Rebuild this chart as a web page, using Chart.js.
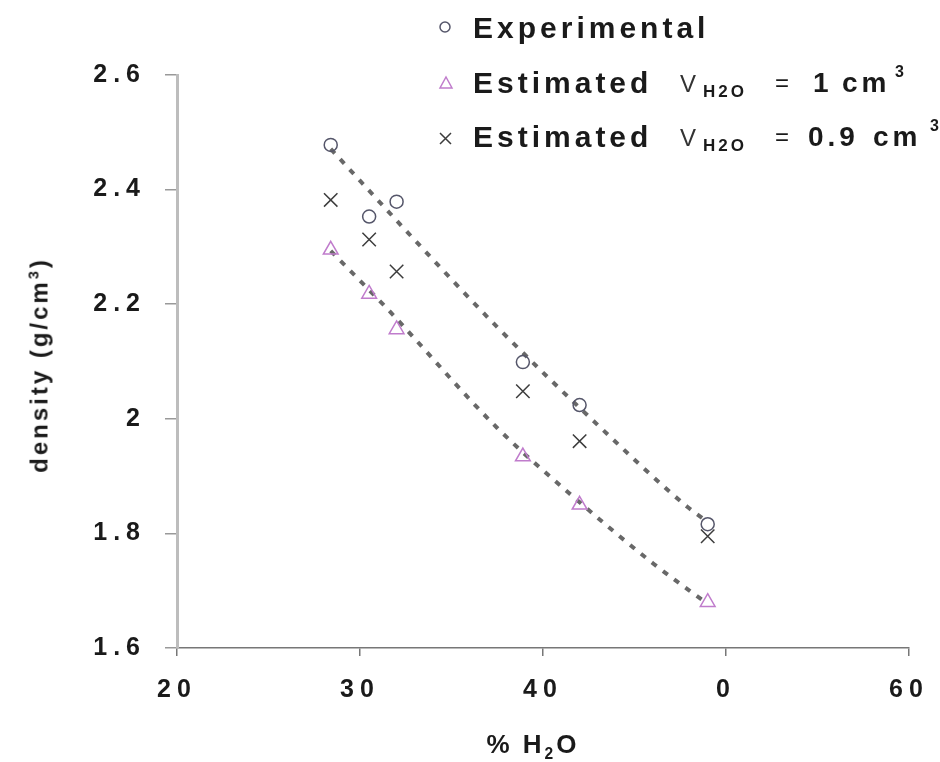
<!DOCTYPE html>
<html>
<head>
<meta charset="utf-8">
<script src="https://cdn.jsdelivr.net/npm/chart.js@4/dist/chart.umd.min.js"></script>
<style>
  body { margin: 0; background: #fff; }
  #wrap { position: relative; width: 940px; height: 762px; overflow: hidden; font-family: "Liberation Sans", Arial, sans-serif; color: #1a1a1a; }
  #chart { position: absolute; left: 0; top: 0; }
  .t { position: absolute; white-space: nowrap; line-height: 0; }
  #ytitle { position: absolute; left: 39px; top: 365px; transform: translate(-50%, -50%) rotate(-90deg); font-size: 24px; font-weight: bold; letter-spacing: 3px; white-space: nowrap; line-height: 1; }
  #xtitle { position: absolute; left: 533px; top: 744px; transform: translateX(-50%); font-size: 26px; font-weight: bold; letter-spacing: 3px; white-space: nowrap; line-height: 0; }
  sub, sup { font-size: 60%; }
</style>
</head>
<body>
<div id="wrap">
  <canvas id="chart" width="940" height="762"></canvas>
  <div id="ytitle">density (g/cm<sup>3</sup>)</div>
  <div id="xtitle">% H<sub>2</sub>O</div>
</div>
<script>
// values
const waterPct = [28.4, 30.5, 32.0, 38.9, 42.0, 49.0];
const experimental = [2.478, 2.353, 2.379, 2.099, 2.024, 1.816];
const estimated1 = [2.295, 2.218, 2.156, 1.934, 1.850, 1.680];
const estimated09 = [2.382, 2.313, 2.257, 2.048, 1.961, 1.795];

// dotted trend lines
const trendTopX = [28.4, 33.4, 37.5, 43.0, 47.9, 49.0];
const trendTopY = [2.471, 2.298, 2.160, 1.989, 1.846, 1.820];
const trendBotX = [28.4, 31.4, 37.5, 41.4, 46.0, 49.0];
const trendBotY = [2.293, 2.195, 1.984, 1.871, 1.748, 1.677];

const xTickValues = [20, 30, 40, 50, 60];
const xTickLabels = ['20', '30', '40', '0', '60'];
const yTickValues = [1.6, 1.8, 2.0, 2.2, 2.4, 2.6];
const yTickLabels = ['1.6', '1.8', '2', '2.2', '2.4', '2.6'];

const pts = (xs, ys) => xs.map((x, i) => ({ x: x, y: ys[i] }));

const circleColor = '#55566a';
const triColor = '#c07ccc';
const crossColor = '#3c3c3c';
const trendColor = '#686868';

const wrap = document.getElementById('wrap');
function put(text, x, base, size, weight, spacing, color) {
  const s = document.createElement('span');
  s.className = 't';
  s.textContent = text;
  s.style.left = x + 'px';
  s.style.top = (base - 0.3465 * size) + 'px';
  s.style.fontSize = size + 'px';
  s.style.fontWeight = weight;
  s.style.letterSpacing = spacing + 'px';
  if (color) s.style.color = color;
  wrap.appendChild(s);
}

// legend text
put('Experimental', 473, 38, 30, 'bold', 4);
put('Estimated', 473, 93, 30, 'bold', 4);
put('V', 680, 92, 24, 'normal', 0, '#333');
put('H2O', 703, 98, 17, 'bold', 3);
put('=', 775, 91, 24, 'normal', 0);
put('1', 813, 93, 28, 'bold', 0);
put('cm', 842, 93, 28, 'bold', 4);
put('3', 895, 78, 16, 'bold', 0);
put('Estimated', 473, 147, 30, 'bold', 4);
put('V', 680, 146, 24, 'normal', 0, '#333');
put('H2O', 703, 152, 17, 'bold', 3);
put('=', 775, 145, 24, 'normal', 0);
put('0.9', 808, 147, 28, 'bold', 4);
put('cm', 873, 147, 28, 'bold', 4);
put('3', 930, 132, 16, 'bold', 0);

const spacingPlugin = {
  id: 'spacing',
  beforeLayout(chart) { chart.ctx.letterSpacing = '6px'; },
  beforeDraw(chart) { chart.ctx.letterSpacing = '6px'; }
};

// legend symbols
const legendMarks = {
  id: 'legendMarks',
  afterDraw(chart) {
    const ctx = chart.ctx;
    ctx.save();
    ctx.lineWidth = 1.5;
    ctx.strokeStyle = circleColor;
    ctx.beginPath();
    ctx.arc(445, 27, 5, 0, Math.PI * 2);
    ctx.stroke();
    ctx.strokeStyle = triColor;
    ctx.beginPath();
    ctx.moveTo(446, 77);
    ctx.lineTo(452, 88);
    ctx.lineTo(440, 88);
    ctx.closePath();
    ctx.stroke();
    ctx.strokeStyle = crossColor;
    ctx.beginPath();
    ctx.moveTo(440, 133); ctx.lineTo(451, 144);
    ctx.moveTo(451, 133); ctx.lineTo(440, 144);
    ctx.stroke();
    ctx.restore();
  }
};

const tickFont = { family: '"Liberation Sans", Arial, sans-serif', size: 25, weight: 'bold' };

new Chart(document.getElementById('chart'), {
  type: 'scatter',
  data: {
    datasets: [
      {
        label: 'trend experimental',
        data: pts(trendTopX, trendTopY),
        showLine: true, pointRadius: 0, borderColor: trendColor, borderWidth: 4,
        borderDash: [6, 8], tension: 0.4, cubicInterpolationMode: 'monotone', order: 3
      },
      {
        label: 'trend estimated',
        data: pts(trendBotX, trendBotY),
        showLine: true, pointRadius: 0, borderColor: trendColor, borderWidth: 4,
        borderDash: [6, 8], tension: 0.4, cubicInterpolationMode: 'monotone', order: 3
      },
      {
        label: 'Experimental',
        data: pts(waterPct, experimental),
        pointStyle: 'circle', pointRadius: 6.5, borderWidth: 1.5,
        borderColor: circleColor, backgroundColor: 'rgba(255,255,255,0)', order: 1
      },
      {
        label: 'Estimated V = 1 cm3',
        data: pts(waterPct, estimated1),
        pointStyle: 'triangle', pointRadius: 8.5, borderWidth: 1.5,
        borderColor: triColor, backgroundColor: 'rgba(255,255,255,0)', order: 1
      },
      {
        label: 'Estimated V = 0.9 cm3',
        data: pts(waterPct, estimated09),
        pointStyle: 'crossRot', pointRadius: 9.5, borderWidth: 1.5,
        borderColor: crossColor, backgroundColor: crossColor, order: 1
      }
    ]
  },
  options: {
    responsive: false,
    animation: false,
    layout: { padding: { top: 75, right: 31, left: 0, bottom: 0 } },
    plugins: { legend: { display: false }, tooltip: { enabled: false } },
    scales: {
      x: {
        type: 'linear', min: 20, max: 60,
        afterBuildTicks: s => { s.ticks = xTickValues.map(v => ({ value: v })); },
        afterFit: s => { s.height = 114; s.paddingLeft = 0; s.paddingRight = 0; },
        border: { display: true, color: '#777', width: 1.5 },
        grid: { drawOnChartArea: false, drawTicks: true, tickLength: 8, color: '#777', lineWidth: 1.5 },
        ticks: { padding: 19, color: '#1a1a1a', font: tickFont, maxRotation: 0,
                 callback: (v, i) => xTickLabels[i] }
      },
      y: {
        type: 'linear', min: 1.6, max: 2.6,
        afterBuildTicks: s => { s.ticks = yTickValues.map(v => ({ value: v })); },
        afterFit: s => { s.width = 177; s.paddingTop = 0; s.paddingBottom = 0; },
        border: { display: true, color: '#bdbdbd', width: 3 },
        grid: { drawOnChartArea: false, drawTicks: true, tickLength: 12, color: '#999', lineWidth: 1.5 },
        ticks: { padding: 19, color: '#1a1a1a', font: tickFont,
                 callback: (v, i) => yTickLabels[i] }
      }
    }
  },
  plugins: [spacingPlugin, legendMarks]
});
</script>
</body>
</html>
